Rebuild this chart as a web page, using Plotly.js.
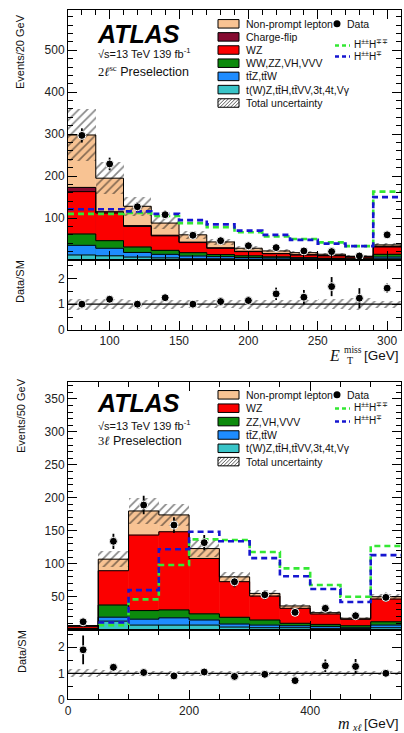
<!DOCTYPE html>
<html><head><meta charset="utf-8">
<script src="https://cdn.plot.ly/plotly-3.0.1.min.js"></script>
<style>html,body{margin:0;padding:0;background:#fff;}#chart{width:404px;height:733px;}</style>
</head><body><div id="chart"></div>
<script>
// ---------- Panel A: 2l-sc preselection, E_T^miss (20 GeV bins) ----------
const binCentersA = [80,100,120,140,160,180,200,220,240,260,280,300];
const binWidthA = 20;
const rareA       = [12,10,7,5,3,3,2,2,1.5,1.2,1,3];
const ttvA        = [23,18,11,8.5,6.5,5,4,3,2.5,1.8,1,4];
const dibosonA    = [27,18,13,9.5,8,5,4,2.5,1.5,1,1,6.5];
const wzA         = [101,66,49,34.5,24,15,10,7.5,6.5,6,4,17.5];
const chargeFlipA = [10,3,2,1.5,1,1,0.8,0.6,0.5,0.5,0.5,1.5];
const nonPromptA  = [125,80,46,29,17.5,14,7.2,6,5,3.2,1.5,3.5];
const uncA        = [62,38,22,15,10,7,5,3.5,3,2.5,2,5];
const dataA       = [297,229,127,108,59,46,34,29.5,21.6,20,9.6,60];
const dataErrA    = [17,15,11,10,7.7,6.8,5.8,5.4,4.6,4.5,3.1,7.7];
const sigHppHmmA  = [110,110,112,105,88,78,66,56,50,42,33,163];
const sigHppHmA   = [121,121,116,110,95,85,70,60,48,39,33,150];
const ratioA      = [1.0,1.19,1.0,1.25,1.0,1.10,1.14,1.40,1.27,1.68,1.23,1.62];
const ratioErrA   = [0.06,0.08,0.09,0.12,0.13,0.16,0.17,0.24,0.28,0.37,0.39,0.18];
const yTicksA     = [100,200,300,400,500];

// ---------- Panel B: 3l preselection, m_xl (50 GeV bins) ----------
const binCentersB = [25,75,125,175,225,275,325,375,425,475,525];
const binWidthB = 50;
const rareB       = [0.6,13,7,7,7,4,3,3,2,2,3];
const ttvB        = [0.6,6,9,11,7.7,4.6,4,3,3,1,4];
const dibosonB    = [0.8,18.4,13,12,9.3,10.2,7.7,3.7,3,3,5];
const wzB         = [3,52,114.5,118.5,84,54,36.3,22.7,15.8,9.7,34.5];
const nonPromptB  = [1.3,17.5,36.5,25.5,15,7.3,4,3.6,2,1.6,3.5];
const uncB        = [1,12,19,17,13,8,5,3.5,2.5,1.8,3.5];
const dataB       = [12,134,189,158.6,132,72.7,53,26.3,32.4,21.2,49];
const dataErrB    = [4,11.5,14,12,11.5,8.5,7.3,5.1,5.7,4.6,7];
const sigHppHmmB  = [null,7,46,98,137,136,117.7,93,67.7,50,127];
const sigHppHmB   = [null,11,60,122,148.5,134,108.5,81,61.6,42,113];
const ratioB      = [1.9,1.23,1.03,0.9,1.05,0.88,0.96,0.72,1.29,1.26,1.0];
const ratioErrB   = [0.55,0.1,0.08,0.08,0.09,0.11,0.13,0.15,0.24,0.29,0.14];
const yTicksB     = [50,100,150,200,250,300,350];

// ---------- styling ----------
const C_NP='#f8c393', C_CF='#850a30', C_WZ='#fb0000', C_VV='#0c8a0c', C_TTV='#1e8cff', C_RARE='#38c4c8';
const C_SIG_G='#33e833', C_SIG_B='#1616d0';
const W=404, H=733;
const px = x => x/W, py = y => 1 - y/H;
const FONT = 'Liberation Sans, Arial, Helvetica, sans-serif';
const SERIF = 'Liberation Serif, Times New Roman, serif';

const traces=[], shapes=[], annotations=[];

function edgesOf(c,w){ const e=c.map(v=>v-w/2); e.push(c[c.length-1]+w/2); return e; }
function stepY(v){ return v.concat([v[v.length-1]]); }

function panel(o){
  const n=o.centers.length;
  const cum=[]; let run=new Array(n).fill(0);
  o.comps.forEach(c=>{ run=run.map((r,i)=>r+c[i]); cum.push(run.slice()); });
  const total=cum[cum.length-1];
  for(let k=o.comps.length-1;k>=0;k--){
    traces.push({type:'bar',x:o.centers,y:cum[k],width:o.width,xaxis:o.xa,yaxis:o.ya,
      marker:{color:o.colors[k],line:{color:o.colors[k],width:0.5}},hoverinfo:'skip',showlegend:false});
  }
  const hatch={shape:'/',fgcolor:'#111',bgcolor:'rgba(0,0,0,0)',size:6,solidity:0.28,fillmode:'overlay'};
  traces.push({type:'bar',x:o.centers,base:total.map((t,i)=>t-o.unc[i]),y:o.unc.map(u=>2*u),width:o.width,
    xaxis:o.xa,yaxis:o.ya,marker:{color:'rgba(0,0,0,0)',line:{width:0},pattern:hatch},hoverinfo:'skip',showlegend:false});
  const edges=edgesOf(o.centers,o.width);
  cum.forEach(c=>traces.push({type:'scatter',mode:'lines',x:edges,y:stepY(c),xaxis:o.xa,yaxis:o.ya,
    line:{shape:'hv',color:'#000',width:1},hoverinfo:'skip',showlegend:false}));
  traces.push({type:'scatter',mode:'lines',x:edges,y:stepY(o.sigG),xaxis:o.xa,yaxis:o.ya,
    line:{shape:'hv',color:C_SIG_G,width:2.6,dash:'6px,4px'},hoverinfo:'skip',showlegend:false});
  traces.push({type:'scatter',mode:'lines',x:edges,y:stepY(o.sigB),xaxis:o.xa,yaxis:o.ya,
    line:{shape:'hv',color:C_SIG_B,width:2.6,dash:'6px,4px'},hoverinfo:'skip',showlegend:false});
  traces.push({type:'scatter',mode:'markers',x:o.centers,y:o.data,xaxis:o.xa,yaxis:o.ya,
    error_y:{type:'data',array:o.dataErr,visible:true,color:'#000',thickness:1.8,width:0},
    marker:{size:8,color:'#000',line:{color:'#fff',width:1}},hoverinfo:'skip',showlegend:false});
  // ratio
  const rel=o.unc.map((u,i)=>u/total[i]);
  traces.push({type:'bar',x:o.centers,base:rel.map(r=>1-r),y:rel.map(r=>2*r),width:o.width,
    xaxis:o.xr,yaxis:o.yr,marker:{color:'rgba(0,0,0,0)',line:{width:0},pattern:hatch},hoverinfo:'skip',showlegend:false});
  shapes.push({type:'line',xref:o.xr+' domain',x0:0,x1:1,yref:o.yr,y0:1,y1:1,line:{color:'#000',width:1.3},layer:'below'});
  traces.push({type:'scatter',mode:'markers',x:o.centers,y:o.ratio,xaxis:o.xr,yaxis:o.yr,
    error_y:{type:'data',array:o.ratioErr,visible:true,color:'#000',thickness:1.8,width:0},
    marker:{size:8,color:'#000',line:{color:'#fff',width:1}},hoverinfo:'skip',showlegend:false});
}

panel({xa:'x',ya:'y',xr:'x2',yr:'y2',centers:binCentersA,width:binWidthA,
  comps:[rareA,ttvA,dibosonA,wzA,chargeFlipA,nonPromptA],colors:[C_RARE,C_TTV,C_VV,C_WZ,C_CF,C_NP],
  unc:uncA,data:dataA,dataErr:dataErrA,sigG:sigHppHmmA,sigB:sigHppHmA,ratio:ratioA,ratioErr:ratioErrA});
panel({xa:'x3',ya:'y3',xr:'x4',yr:'y4',centers:binCentersB,width:binWidthB,
  comps:[rareB,ttvB,dibosonB,wzB,nonPromptB],colors:[C_RARE,C_TTV,C_VV,C_WZ,C_NP],
  unc:uncB,data:dataB,dataErr:dataErrB,sigG:sigHppHmmB,sigB:sigHppHmB,ratio:ratioB,ratioErr:ratioErrB});

// ---------- axes ----------
const xDom=[px(68),px(401)];
const tickFont={family:FONT,size:12,color:'#222'};
function xAx(range,anchor,dtick,minor,labels){
  return {domain:xDom,range:range,anchor:anchor,ticks:'inside',ticklen:9,tickwidth:1,tickcolor:'#000',
    tickmode:'linear',tick0:0,dtick:dtick,minor:{tickmode:'linear',tick0:0,dtick:minor,ticks:'inside',ticklen:5,tickwidth:1,tickcolor:'#000'},
    showticklabels:labels,tickfont:tickFont,showline:true,linecolor:'#000',linewidth:1,mirror:'ticks',
    showgrid:false,zeroline:false,fixedrange:true,automargin:false};
}
function yAx(dom,range,anchor,tv,minor){
  return {domain:dom,range:range,anchor:anchor,ticks:'inside',ticklen:9,tickwidth:1,tickcolor:'#000',
    tickmode:'array',tickvals:tv,ticktext:tv.map(String),
    minor:{tickmode:'linear',tick0:0,dtick:minor,ticks:'inside',ticklen:5,tickwidth:1,tickcolor:'#000'},
    tickfont:tickFont,showline:true,linecolor:'#000',linewidth:1,mirror:'ticks',
    showgrid:false,zeroline:false,fixedrange:true,automargin:false};
}

const layout={
  width:W,height:H,margin:{l:0,r:0,t:0,b:0},autosize:false,
  paper_bgcolor:'#fff',plot_bgcolor:'#fff',barmode:'overlay',bargap:0,showlegend:false,
  font:{family:FONT,color:'#111'},
  xaxis: xAx([70,310],'y',50,10,false),
  yaxis: yAx([py(260),py(10)],[0,596],'x',yTicksA,20),
  xaxis2:xAx([70,310],'y2',50,10,true),
  yaxis2:yAx([py(330),py(260)],[0,2.71],'x2',[0,1,2],0.5),
  xaxis3:xAx([0,550],'y3',200,50,false),
  yaxis3:yAx([py(629.7),py(381.7)],[0,376],'x3',yTicksB,10),
  xaxis4:xAx([0,550],'y4',200,50,true),
  yaxis4:yAx([py(699.4),py(629.7)],[0,2.67],'x4',[0,1,2],0.5),
  shapes:shapes,annotations:annotations
};

// ---------- text helpers ----------
function txt(t,x,y,o){
  o=o||{};
  annotations.push(Object.assign({text:t,xref:'paper',yref:'paper',x:px(x),y:py(y),showarrow:false,
    xanchor:'left',yanchor:'middle',font:{family:FONT,size:10.5,color:'#111'}},o));
}
function hatchBox(x0,x1,yc,h){
  const yt=yc-h/2, yb=yc+h/2, w=x1-x0;
  for(let d=-h; d<w; d+=3.5){
    const t0=Math.max(0,-d), t1=Math.min(h,w-d);
    if(t1<=t0) continue;
    shapes.push({type:'line',xref:'paper',yref:'paper',x0:px(x0+d+t0),y0:py(yb-t0),x1:px(x0+d+t1),y1:py(yb-t1),line:{color:'#333',width:0.8}});
  }
  shapes.push({type:'rect',xref:'paper',yref:'paper',x0:px(x0),x1:px(x1),y0:py(yb),y1:py(yt),line:{color:'#000',width:1}});
}
function legend(entries,rows,dataRow,gY,bY,gTY,bTY){
  entries.forEach((e,i)=>{
    const yc=rows[i];
    if(e.hatch) hatchBox(218,239,yc,8.5);
    else shapes.push({type:'rect',xref:'paper',yref:'paper',x0:px(218),x1:px(239),y0:py(yc+4.25),y1:py(yc-4.25),
      fillcolor:e.color,line:{color:'#000',width:1}});
    txt(e.label,243.5,yc);
  });
  shapes.push({type:'circle',xref:'paper',yref:'paper',x0:px(333.5),x1:px(340.5),y0:py(dataRow+3.5),y1:py(dataRow-3.5),fillcolor:'#000',line:{color:'#000',width:0}});
  txt('Data',345,dataRow);
  shapes.push({type:'line',xref:'paper',yref:'paper',x0:px(335),x1:px(350),y0:py(gY),y1:py(gY),line:{color:C_SIG_G,width:2.6,dash:'4px,3px'}});
  shapes.push({type:'line',xref:'paper',yref:'paper',x0:px(335),x1:px(350),y0:py(bY),y1:py(bY),line:{color:C_SIG_B,width:2.6,dash:'4px,3px'}});
  txt('H<sup>±±</sup>H<sup>∓∓</sup>',352,gTY,{font:{family:FONT,size:10,color:'#111'}});
  txt('H<sup>±±</sup>H<sup>∓</sup>',352,bTY,{font:{family:FONT,size:10,color:'#111'}});
}

// Panel A texts
txt('<b><i>ATLAS</i></b>',95,33.5,{font:{family:FONT,size:25,color:'#000'}});
txt('√s=13 TeV 139 fb<sup>-1</sup>',96,53,{font:{family:FONT,size:11,color:'#111'}});
txt('<span style="font-family:Liberation Serif">2<i>ℓ</i><sup>sc</sup></span> Preselection',96,71,{font:{family:FONT,size:12.5,color:'#111'}});
legend([
  {label:'Non-prompt lepton',color:C_NP},
  {label:'Charge-flip',color:C_CF},
  {label:'WZ',color:C_WZ},
  {label:'WW,ZZ,VH,VVV',color:C_VV},
  {label:'tt̄Z,tt̄W',color:C_TTV},
  {label:'t(W)Z,tt̄H,tt̄VV,3t,4t,Vγ',color:C_RARE},
  {label:'Total uncertainty',hatch:true}
],[23.8,36.9,50,63.2,76.4,89.6,103],23.8,45.5,56.5,44,56);
txt('Events/20 GeV',19.5,51.5,{textangle:-90,xanchor:'center',font:{family:FONT,size:11,color:'#111'}});
txt('Data/SM',20,282,{textangle:-90,xanchor:'center',font:{family:FONT,size:11,color:'#111'}});
txt('<i>E</i>',334,356,{xanchor:'center',font:{family:SERIF,size:16,color:'#111'}});
txt('miss',352.5,349.5,{xanchor:'center',font:{family:SERIF,size:9.5,color:'#111'}});
txt('T',350,360,{xanchor:'center',font:{family:SERIF,size:10,color:'#111'}});
txt('[GeV]',401,355.5,{xanchor:'right',font:{family:FONT,size:13.5,color:'#111'}});

// Panel B texts
txt('<b><i>ATLAS</i></b>',95,403,{font:{family:FONT,size:25,color:'#000'}});
txt('√s=13 TeV 139 fb<sup>-1</sup>',96,425,{font:{family:FONT,size:11,color:'#111'}});
txt('<span style="font-family:Liberation Serif">3<i>ℓ</i></span> Preselection',96,441,{font:{family:FONT,size:12.5,color:'#111'}});
legend([
  {label:'Non-prompt lepton',color:C_NP},
  {label:'WZ',color:C_WZ},
  {label:'ZZ,VH,VVV',color:C_VV},
  {label:'tt̄Z,tt̄W',color:C_TTV},
  {label:'t(W)Z,tt̄H,tt̄VV,3t,4t,Vγ',color:C_RARE},
  {label:'Total uncertainty',hatch:true}
],[394.8,408.2,421.6,435,448.3,461.6],394.8,408.5,421.5,407,420);
txt('Events/50 GeV',21,416,{textangle:-90,xanchor:'center',font:{family:FONT,size:11,color:'#111'}});
txt('Data/SM',22,652,{textangle:-90,xanchor:'center',font:{family:FONT,size:11,color:'#111'}});
txt('<i>m</i>',343.5,723.5,{xanchor:'center',font:{family:SERIF,size:16,color:'#111'}});
txt('<i>xℓ</i>',356.5,727,{xanchor:'center',font:{family:SERIF,size:10,color:'#111'}});
txt('[GeV]',401,723.5,{xanchor:'right',font:{family:FONT,size:13.5,color:'#111'}});

Plotly.newPlot('chart',traces,layout,{displayModeBar:false,staticPlot:true});
</script></body></html>
